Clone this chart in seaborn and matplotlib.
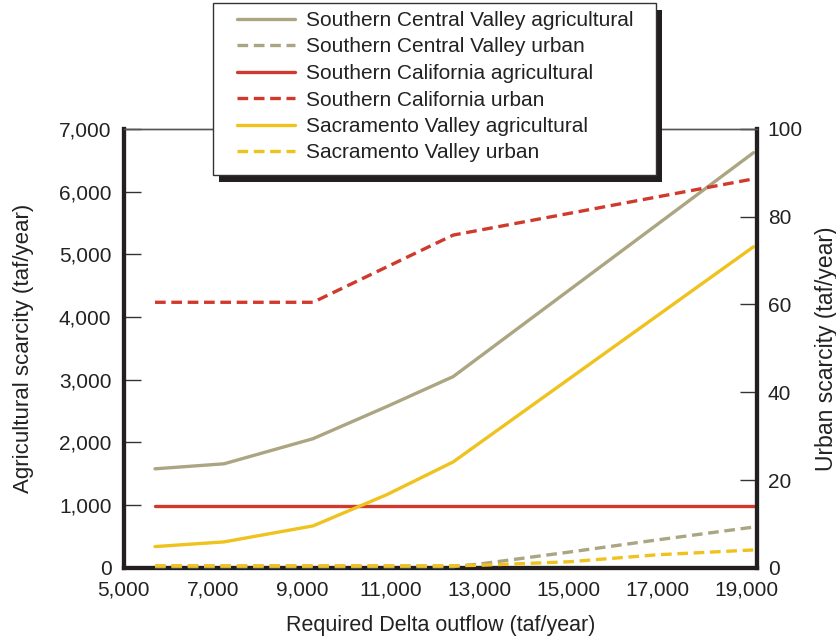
import matplotlib
matplotlib.use("Agg")
import matplotlib.pyplot as plt
import seaborn as sns
from matplotlib.patches import Rectangle

# valores (taf/year)
x_main = [5700, 7250, 9250, 10900, 12400, 19150]
scv_ag = [1580, 1660, 2060, 2570, 3050, 6620]
sac_ag = [340, 415, 670, 1165, 1690, 5120]
socal_ag = [980, 980, 980, 980, 980, 980]

x_socal_urb = [5700, 7250, 9250, 12400, 19150]
socal_urb = [60.5, 60.5, 60.5, 75.8, 88.6]

x_urb = [5700, 9250, 12400, 13000, 15000, 17000, 19150]
scv_urb = [0.3, 0.3, 0.3, 0.9, 3.6, 6.4, 9.3]
sac_urb = [0.5, 0.5, 0.5, 0.6, 1.4, 3.0, 4.1]

x_ticks = [5000, 7000, 9000, 11000, 13000, 15000, 17000, 19000]
ag_ticks = [0, 1000, 2000, 3000, 4000, 5000, 6000, 7000]
urb_ticks = [0, 20, 40, 60, 80, 100]

tan = "#aba582"
red = "#cf3a2c"
yellow = "#efc21d"
ink = "#231f20"
txt = "#222222"

sns.set_style("white")
plt.rcParams['font.family'] = ['Liberation Sans', 'DejaVu Sans']

fig = plt.figure(figsize=(8.37, 6.41), dpi=100)
ax = fig.add_axes([0.148, 0.114, 0.756, 0.685])
ax2 = ax.twinx()

lw = 2.4
dash = (0, (3.2, 1.7))
fs = 15

# eixo da esquerda: escassez agrícola
sns.lineplot(x=x_main, y=scv_ag, ax=ax, color=tan, lw=lw, label="Southern Central Valley agricultural", legend=False)
sns.lineplot(x=x_main, y=socal_ag, ax=ax, color=red, lw=lw, label="Southern California agricultural", legend=False)
sns.lineplot(x=x_main, y=sac_ag, ax=ax, color=yellow, lw=lw, label="Sacramento Valley agricultural", legend=False)

# eixo da direita: escassez urbana
sns.lineplot(x=x_urb, y=scv_urb, ax=ax2, color=tan, lw=lw, linestyle=dash, label="Southern Central Valley urban", legend=False)
sns.lineplot(x=x_socal_urb, y=socal_urb, ax=ax2, color=red, lw=lw, linestyle=dash, label="Southern California urban", legend=False)
sns.lineplot(x=x_urb, y=sac_urb, ax=ax2, color=yellow, lw=lw, linestyle=dash, label="Sacramento Valley urban", legend=False)

for line in ax.lines + ax2.lines:
    line.set_clip_on(False)
    line.set_zorder(4)

ax.set_xlim(5000, 19220)
ax.set_ylim(0, 7000)
ax2.set_ylim(0, 100)

ax.set_xticks(x_ticks)
ax.set_xticklabels([f"{v:,}" for v in x_ticks])
ax.set_yticks(ag_ticks)
ax.set_yticklabels([f"{v:,}" for v in ag_ticks])
ax2.set_yticks(urb_ticks)

ax.tick_params(axis="x", direction="in", length=12, width=1, color="#333333",
               labelsize=fs, pad=9, labelcolor=txt)
ax.tick_params(axis="y", direction="in", length=12, width=1, color="#333333",
               labelsize=fs, pad=9, labelcolor=txt)
ax2.tick_params(axis="y", direction="in", length=12, width=1, color="#333333",
                labelsize=fs, pad=8, labelcolor=txt)

for a in (ax, ax2):
    for side in ("left", "right", "bottom"):
        a.spines[side].set_linewidth(3)
        a.spines[side].set_color(ink)
    a.spines["top"].set_linewidth(1)
    a.spines["top"].set_color("#555555")

ax.set_xlabel("Required Delta outflow (taf/year)", fontsize=15.5, color=txt, labelpad=11)
ax.set_ylabel("Agricultural scarcity (taf/year)", fontsize=16, color=txt, labelpad=18)
ax2.set_ylabel("Urban scarcity (taf/year)", fontsize=16.5, color=txt, labelpad=9)

# caixa da legenda com sombra preta (em pixels da figura)
W, H = 837, 641
box_l, box_r, box_t, box_b = 213, 656, 3, 175
fig.patches.append(Rectangle(((box_l + 6) / W, 1 - (box_b + 7) / H), (box_r - box_l) / W,
                             (box_b - box_t) / H, transform=fig.transFigure,
                             facecolor=ink, edgecolor="none", zorder=8))
fig.patches.append(Rectangle((box_l / W, 1 - box_b / H), (box_r - box_l) / W,
                             (box_b - box_t) / H, transform=fig.transFigure,
                             facecolor="white", edgecolor="#333333", lw=1, zorder=9))

# legenda na ordem original
handles = {}
for line in ax.lines + ax2.lines:
    handles[line.get_label()] = line
order = ["Southern Central Valley agricultural", "Southern Central Valley urban",
         "Southern California agricultural", "Southern California urban",
         "Sacramento Valley agricultural", "Sacramento Valley urban"]
leg = fig.legend([handles[k] for k in order], order, loc="upper left",
                 bbox_to_anchor=(237 / W, 1 - 11 / H), bbox_transform=fig.transFigure,
                 fontsize=15, frameon=False, handlelength=2.8,
                 handletextpad=0.5, labelspacing=0.36, borderpad=0, borderaxespad=0)
for t in leg.get_texts():
    t.set_color(txt)
leg.set_zorder(10)

fig.savefig("out.png", dpi=100)
